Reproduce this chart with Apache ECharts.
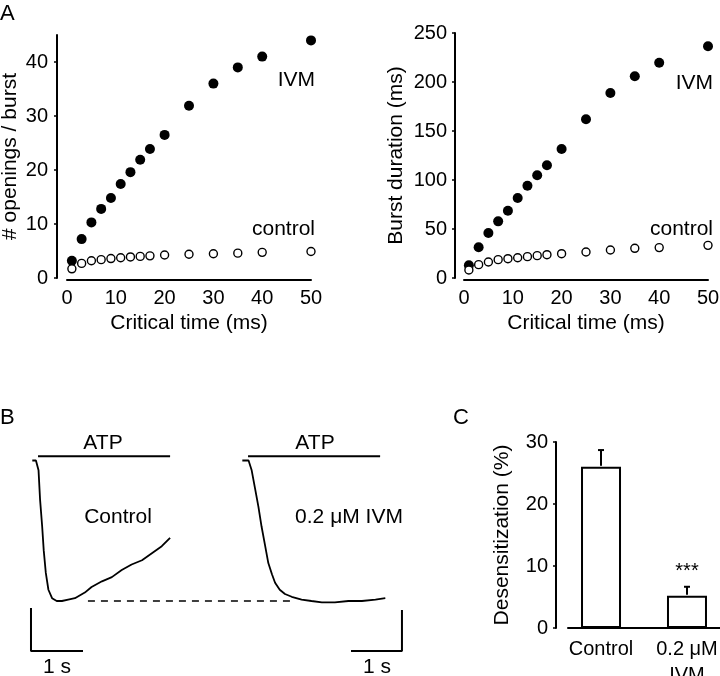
<!DOCTYPE html>
<html><head><meta charset="utf-8">
<script src="https://cdn.jsdelivr.net/npm/echarts@6/dist/echarts.min.js"></script>
<style>html,body{margin:0;padding:0;background:#fff}#c{width:720px;height:676px}</style>
</head><body><div id="c"></div>
<script>
// Panel A data
const critTime = [1,3,5,7,9,11,13,15,17,20,25,30,35,40,50];
const openingsIVM = [3.2,7.2,10.3,12.8,14.8,17.4,19.6,21.9,23.9,26.5,31.9,36.0,39.0,41.0,44.0];
const openingsCtrl = [1.7,2.7,3.2,3.4,3.6,3.75,3.9,4.0,4.1,4.25,4.4,4.5,4.6,4.75,4.9];
const durationIVM = [12.9,31.3,45.9,57.8,68.7,81.6,94.2,104.8,115,131.6,161.9,188.8,205.8,219.7,236.4];
const durationCtrl = [8.2,13.6,16.3,18.7,19.7,20.7,21.8,22.8,23.8,24.8,26.5,28.6,30.3,31.0,33.3];
const openTicks = [0,10,20,30,40];
const durTicks = [0,50,100,150,200,250];
const critTicks = [0,10,20,30,40,50];
// Panel B traces (time in s, normalized current)
const ctrlT = [0,0.07,0.12,0.15,0.19,0.22,0.26,0.31,0.38,0.47,0.57,0.69,0.82,1.01,1.14,1.34,1.53,1.72,1.91,2.11,2.30,2.49,2.65];
const ctrlI = [0,0,-0.07,-0.28,-0.47,-0.64,-0.80,-0.92,-0.98,-1.0,-1.0,-0.99,-0.98,-0.94,-0.90,-0.86,-0.83,-0.78,-0.74,-0.71,-0.66,-0.61,-0.55];
const ivmT = [0,0.12,0.18,0.24,0.31,0.37,0.44,0.50,0.57,0.63,0.72,0.82,0.95,1.14,1.33,1.53,1.78,2.04,2.30,2.56,2.75];
const ivmI = [0,0,-0.07,-0.19,-0.33,-0.47,-0.61,-0.73,-0.81,-0.87,-0.92,-0.95,-0.97,-0.99,-1.0,-1.01,-1.01,-1.0,-1.0,-0.99,-0.98];
const atpBarT = [0.11,2.65];
const atpBarLevel = 0.03;
const peakLineT = [1.07,4.96];
const peakLevel = -1.0;
const scaleBarLeft = [[-0.025,-1.05],[-0.025,-1.356],[0.975,-1.356]];
const scaleBarRight = [[2.09,-1.356],[3.07,-1.356],[3.07,-1.064]];
// Panel C
const desensCats = ['Control','0.2 \u03bcM\nIVM'];
const desensMean = [26.0, 5.2];
const desensSEM = [2.7, 1.45];
const desensTicks = [0,10,20,30];

const FONT = '"Liberation Sans", Arial, sans-serif';
const chart = echarts.init(document.getElementById('c'));
const axisTxt = {color:'#000', fontSize:20, fontFamily:FONT};
const nameTxt = {color:'#000', fontSize:21, fontFamily:FONT};
const axLine = {show:true, onZero:false, lineStyle:{color:'#000', width:2}};

function valY(gridIndex, max, ticks, name, offset, gap, margin){
  return {type:'value', gridIndex, min:0, max, offset,
    axisLine:axLine, splitLine:{show:false},
    axisTick:{show:true, inside:false, length:3, lineStyle:{color:'#000',width:1.5}, customValues:ticks},
    axisLabel:Object.assign({margin:margin, customValues:ticks}, axisTxt),
    name, nameLocation:'middle', nameGap:gap, nameTextStyle:nameTxt};
}
function valX(gridIndex){
  return {type:'value', gridIndex, min:0, max:50, offset:2,
    axisLine:axLine, splitLine:{show:false}, axisTick:{show:false},
    axisLabel:Object.assign({margin:8, customValues:critTicks}, axisTxt),
    name:'Critical time (ms)', nameLocation:'middle', nameGap:33, nameTextStyle:nameTxt};
}
const pairs = (xs, ys) => xs.map((x,i)=>[x, ys[i]]);
const filled = {symbol:'circle', symbolSize:10, itemStyle:{color:'#000', opacity:1}};
const open = {symbol:'circle', symbolSize:8, itemStyle:{color:'#fff', borderColor:'#000', borderWidth:1.4, opacity:1}};
const blk = {color:'#000', width:2};
const G = {outerBoundsMode:'none', containLabel:false};

function txt(x, y, text, align, size){
  return {type:'text', x, y, style:{text, font:(size||21)+'px '+FONT, fill:'#000', align:align||'center', verticalAlign:'middle'}};
}

chart.setOption({
  animation:false,
  backgroundColor:'#fff',
  grid:[
    Object.assign({left:67, top:35, width:244, height:243}, G),
    Object.assign({left:464, top:33, width:244, height:245}, G),
    Object.assign({left:0, top:400, width:420, height:276}, G),
    Object.assign({left:568, top:442, width:152, height:186}, G)
  ],
  xAxis:[
    valX(0), valX(1),
    {type:'value', gridIndex:2, min:-0.621, max:7.456, show:false},
    {type:'value', gridIndex:2, min:-4.66, max:3.417, show:false},
    {type:'value', gridIndex:3, min:-0.384, max:1.384,
      axisLine:axLine, splitLine:{show:false}, axisTick:{show:false},
      axisLabel:Object.assign({margin:8, customValues:[0,1], lineHeight:26, formatter:v=>desensCats[Math.round(v)]}, axisTxt)}
  ],
  yAxis:[
    valY(0, 45, openTicks, '# openings / burst', 10, 36, 9),
    valY(1, 250, durTicks, 'Burst duration (ms)', 9, 48, 8),
    {type:'value', gridIndex:2, min:-1.5338, max:0.4306, show:false},
    valY(3, 30, desensTicks, 'Desensitization (%)', 12, 43, 8)
  ],
  series:[
    Object.assign({type:'scatter', xAxisIndex:0, yAxisIndex:0, data:pairs(critTime, openingsIVM)}, filled),
    Object.assign({type:'scatter', xAxisIndex:0, yAxisIndex:0, data:pairs(critTime, openingsCtrl)}, open),
    Object.assign({type:'scatter', xAxisIndex:1, yAxisIndex:1, data:pairs(critTime, durationIVM)}, filled),
    Object.assign({type:'scatter', xAxisIndex:1, yAxisIndex:1, data:pairs(critTime, durationCtrl)}, open),
    {type:'line', xAxisIndex:2, yAxisIndex:2, data:pairs(ctrlT, ctrlI), showSymbol:false, smooth:false, lineStyle:{color:'#000', width:1.8}},
    {type:'line', xAxisIndex:3, yAxisIndex:2, data:pairs(ivmT, ivmI), showSymbol:false, smooth:false, lineStyle:{color:'#000', width:1.8}},
    {type:'line', xAxisIndex:2, yAxisIndex:2, data:atpBarT.map(t=>[t, atpBarLevel]), showSymbol:false, lineStyle:blk},
    {type:'line', xAxisIndex:3, yAxisIndex:2, data:atpBarT.map(t=>[t, atpBarLevel]), showSymbol:false, lineStyle:blk},
    {type:'line', xAxisIndex:2, yAxisIndex:2, data:peakLineT.map(t=>[t, peakLevel]), showSymbol:false, lineStyle:{color:'#000', width:1.5, type:[7,6]}},
    {type:'line', xAxisIndex:2, yAxisIndex:2, data:scaleBarLeft, showSymbol:false, lineStyle:blk},
    {type:'line', xAxisIndex:3, yAxisIndex:2, data:scaleBarRight, showSymbol:false, lineStyle:blk},
    {type:'bar', xAxisIndex:4, yAxisIndex:3, barWidth:40, data:desensMean.map((m,i)=>[i,m]),
      itemStyle:{color:'#fff', borderColor:'#000', borderWidth:2}},
    {type:'custom', xAxisIndex:4, yAxisIndex:3, data:desensMean.map((m,i)=>[i, m, m+desensSEM[i]]),
      renderItem:function(params, api){
        const b = api.coord([api.value(0), api.value(1)]);
        const t = api.coord([api.value(0), api.value(2)]);
        return {type:'group', children:[
          {type:'line', shape:{x1:b[0], y1:b[1]-1, x2:t[0], y2:t[1]}, style:{stroke:'#000', lineWidth:2}},
          {type:'line', shape:{x1:t[0]-3, y1:t[1], x2:t[0]+3, y2:t[1]}, style:{stroke:'#000', lineWidth:2}}
        ]};
      }}
  ],
  graphic:[
    txt(0, 14, 'A', 'left', 22),
    txt(315, 80, 'IVM', 'right'),
    txt(315, 229, 'control', 'right'),
    txt(713, 83, 'IVM', 'right'),
    txt(713, 229, 'control', 'right'),
    txt(0, 418, 'B', 'left', 22),
    txt(453, 418, 'C', 'left', 22),
    txt(103, 443, 'ATP', 'center'),
    txt(315, 443, 'ATP', 'center'),
    txt(118, 517, 'Control', 'center'),
    txt(349, 517, '0.2 \u03bcM IVM', 'center'),
    txt(57, 667, '1 s', 'center'),
    txt(377, 667, '1 s', 'center'),
    txt(687, 571, '***', 'center', 20)
  ]
});
</script></body></html>
